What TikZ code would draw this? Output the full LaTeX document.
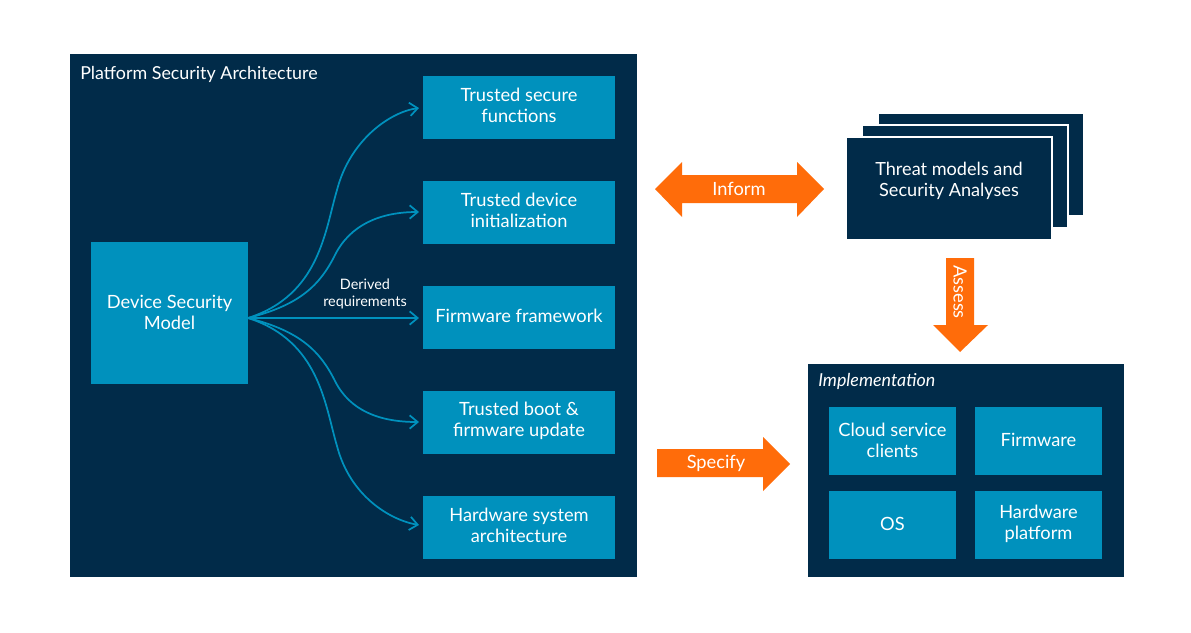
\documentclass[tikz,border=0pt]{standalone}
\usepackage{fontspec}
\setmainfont{Lato}
\usetikzlibrary{arrows.meta}
\definecolor{navy}{HTML}{012B49}
\definecolor{lblue}{HTML}{0091BD}
\definecolor{orng}{HTML}{FF6C0A}
\tikzset{
  x=0.75pt, y=-0.75pt,
  bigbox/.style={fill=navy, draw=none},
  bluebox/.style={fill=lblue, draw=none, text=white, align=center, font=\fontsize{13.7}{15.75}\selectfont, inner sep=0pt},
  stackbox/.style={fill=navy, draw=white, line width=1.5pt},
  req/.style={draw=lblue, line width=1.3pt, -{Straight Barb[length=6pt,width=10pt,line width=1.3pt]}},
  orangearrow/.style={fill=orng, draw=none},
  arrowtext/.style={text=white, font=\fontsize{13.7}{15}\selectfont},
  titletext/.style={text=white, font=\fontsize{13.4}{15}\selectfont, anchor=west, inner sep=0pt},
}
\begin{document}
\begin{tikzpicture}
\useasboundingbox (0,0) rectangle (1191,632);
\fill[white] (0,0) rectangle (1191,632);

% Platform Security Architecture
\fill[bigbox] (70,54) rectangle (637,577);
\node[titletext] (psatitle) at (80,74) {Platform Security Architecture};

\path[bluebox] (91,242) rectangle (248,384);
\node[bluebox] (dsm) at (169.5,312) {Device Security\\Model};
\coordinate (src) at (248,318);

\foreach \n/\ya/\yb/\t in {
  tsf/76/139/{Trusted secure\\functions},
  tdi/181/244/{Trusted device\\initialization},
  ffw/286/349/{Firmware framework},
  tbf/391/454/{Trusted boot \&\\firmware update},
  hsa/496/559/{Hardware system\\architecture}} {
  \path[bluebox] (423,\ya) rectangle (615,\yb);
  \node[bluebox] (\n) at (519,{(\ya+\yb)/2-2}) {\t};
}
\coordinate (e1) at (419,108);
\coordinate (e2) at (419,212);
\coordinate (e3) at (419,318);
\coordinate (e4) at (419,422);
\coordinate (e5) at (419,525);

\draw[req] (src) .. controls (320,295) and (325,230) .. (337,190) .. controls (350,140) and (390,112) .. (e1);
\draw[req] (src) .. controls (300,305) and (320,285) .. (335,255) .. controls (350,225) and (380,212) .. (e2);
\draw[req] (src) -- (e3);
\draw[req] (src) .. controls (300,331) and (320,351) .. (335,381) .. controls (350,411) and (380,422) .. (e4);
\draw[req] (src) .. controls (320,341) and (325,406) .. (337,446) .. controls (350,496) and (390,520) .. (e5);
\node[text=white, align=center, font=\fontsize{10.8}{12.5}\selectfont, inner sep=0pt] (derived) at (365,294) {Derived\\requirements};

% Threat models stack
\draw[stackbox] (878,113) rectangle (1084,216);
\draw[stackbox] (862,125) rectangle (1068,228);
\draw[stackbox] (846,137) rectangle (1052,240);
\node[text=white, align=center, font=\fontsize{13.6}{15.75}\selectfont, inner sep=0pt] (threat) at (949,181) {Threat models and\\Security Analyses};

% Inform double arrow
\fill[orangearrow] (655,189) -- (682,162) -- (682,175) -- (797,175) -- (797,162) -- (824,189)
  -- (797,217) -- (797,203) -- (682,203) -- (682,217) -- cycle;
\node[arrowtext] (inform) at (739,189) {Inform};

% Assess arrow
\fill[orangearrow] (946,258) -- (974,258) -- (974,325) -- (988,325) -- (960,352) -- (933,325) -- (946,325) -- cycle;
\node[arrowtext, rotate=-90] (assess) at (960,292) {Assess};

% Implementation
\fill[bigbox] (808,364) rectangle (1124,577);
\node[titletext, font=\fontsize{13.4}{15}\selectfont\itshape] (impltitle) at (818,381) {Implementation};
\path[bluebox] (829,407) rectangle (956,475);
\node[bluebox] (cloud) at (892.5,440) {Cloud service\\clients};
\path[bluebox] (975,407) rectangle (1102,475);
\node[bluebox] (fw) at (1038.5,440) {Firmware};
\path[bluebox] (829,491) rectangle (956,559);
\node[bluebox] (os) at (892.5,524) {OS};
\path[bluebox] (975,491) rectangle (1102,559);
\node[bluebox] (hwp) at (1038.5,524) {Hardware\\platform};

% Specify arrow
\fill[orangearrow] (657,449) -- (763,449) -- (763,437) -- (790,464) -- (763,491) -- (763,477) -- (657,477) -- cycle;
\node[arrowtext] (specify) at (716,463) {Specify};
\end{tikzpicture}
\end{document}
